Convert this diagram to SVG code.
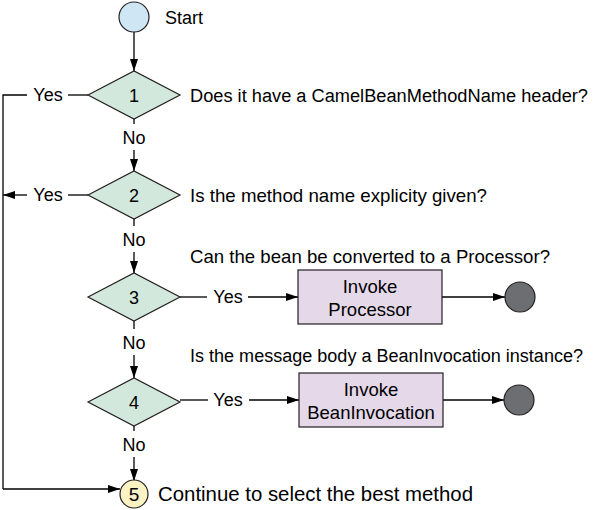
<svg xmlns="http://www.w3.org/2000/svg" width="600" height="510" viewBox="0 0 600 510">
<defs>
<marker id="ah" markerWidth="12" markerHeight="8" refX="12" refY="4" orient="auto" markerUnits="userSpaceOnUse">
<path d="M0,0 L12,4 L0,8 Z" fill="#000"/>
</marker>
<style>
text{font-family:"Liberation Sans",Arial,sans-serif;font-size:18px;fill:#000;}
.c{text-anchor:middle;}
.lb{font-size:18.5px;}
.d{fill:#d3e8dc;stroke:#231f20;stroke-width:1.2;}
.r{fill:#e4d8e9;stroke:#231f20;stroke-width:1.2;}
.ln{stroke:#000;stroke-width:1.3;fill:none;}
.ar{stroke:#000;stroke-width:1.3;fill:none;marker-end:url(#ah);}
.end{fill:#6d6e71;stroke:#231f20;stroke-width:1.2;}
</style>
</defs>
<rect width="600" height="510" fill="#fff"/>
<g id="connectors">
<path class="ar" d="M134,32 V71"/>
<path class="ln" d="M134,119 V124"/>
<path class="ar" d="M134,150 V171"/>
<path class="ln" d="M134,219 V226"/>
<path class="ar" d="M134,252 V273"/>
<path class="ln" d="M134,321 V329"/>
<path class="ar" d="M134,355 V378"/>
<path class="ln" d="M134,426 V431"/>
<path class="ar" d="M134,457 V481"/>
<path class="ln" d="M88,95 H68"/>
<path class="ln" d="M27,95 H3 V489"/>
<path class="ar" d="M3,489 H120"/>
<path class="ln" d="M88,195 H68"/>
<path class="ar" d="M27,195 H3"/>
<path class="ln" d="M180,297 H207"/>
<path class="ar" d="M248,297 H298"/>
<path class="ln" d="M180,400 H208"/>
<path class="ar" d="M249,400 H299"/>
<path class="ar" d="M442,297 H505"/>
<path class="ar" d="M443,400 H504"/>
<text x="48" y="101" class="c">Yes</text>
<text x="48" y="201" class="c">Yes</text>
<text x="228" y="303" class="c">Yes</text>
<text x="228" y="406" class="c">Yes</text>
<text x="134" y="144" class="c">No</text>
<text x="134" y="246" class="c">No</text>
<text x="134" y="349" class="c">No</text>
<text x="134" y="451" class="c">No</text>
</g>
<g id="start">
<circle cx="134" cy="17" r="15" fill="#cfe7f5" stroke="#231f20" stroke-width="1.2"/>
<text x="165" y="24">Start</text>
</g>
<g id="d1">
<polygon class="d" points="88,95 134,71 180,95 134,119"/>
<text x="134" y="102" class="c">1</text>
<text x="190" y="102" textLength="398" lengthAdjust="spacingAndGlyphs">Does it have a CamelBeanMethodName header?</text>
</g>
<g id="d2">
<polygon class="d" points="88,195 134,171 180,195 134,219"/>
<text x="134" y="202" class="c">2</text>
<text x="190" y="202" class="lb" textLength="297" lengthAdjust="spacingAndGlyphs">Is the method name explicity given?</text>
</g>
<g id="d3">
<polygon class="d" points="88,297 134,273 180,297 134,321"/>
<text x="134" y="304" class="c">3</text>
<text x="190" y="263" class="lb" textLength="360" lengthAdjust="spacingAndGlyphs">Can the bean be converted to a Processor?</text>
</g>
<g id="d4">
<polygon class="d" points="88,402 134,378 180,402 134,426"/>
<text x="134" y="409" class="c">4</text>
<text x="190" y="362" textLength="393" lengthAdjust="spacingAndGlyphs">Is the message body a BeanInvocation instance?</text>
</g>
<g id="p1">
<rect class="r" x="298" y="270" width="144" height="54"/>
<text x="370" y="293" class="c lb">Invoke</text>
<text x="370" y="316" class="c lb">Processor</text>
</g>
<g id="p2">
<rect class="r" x="299" y="373" width="144" height="54"/>
<text x="371" y="396" class="c lb">Invoke</text>
<text x="371" y="419" class="c lb">BeanInvocation</text>
</g>
<g id="e1"><circle class="end" cx="520" cy="297" r="15"/></g>
<g id="e2"><circle class="end" cx="519" cy="400" r="15"/></g>
<g id="n5">
<circle cx="134" cy="494" r="14" fill="#fcf3c5" stroke="#231f20" stroke-width="1.2"/>
<text x="134" y="501" class="c" style="font-size:19px">5</text>
<text x="158" y="501" style="font-size:20px" textLength="315" lengthAdjust="spacingAndGlyphs">Continue to select the best method</text>
</g>
</svg>
